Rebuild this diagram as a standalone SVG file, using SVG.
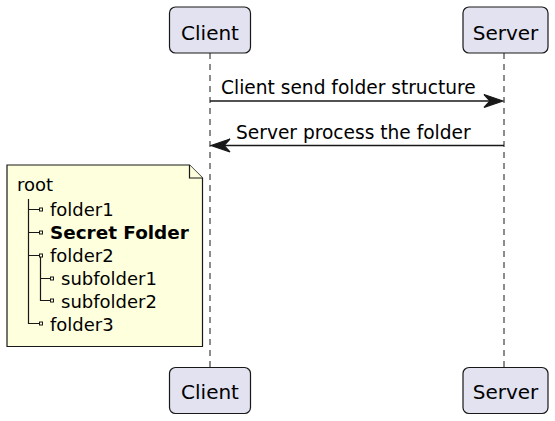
<svg xmlns="http://www.w3.org/2000/svg" width="555" height="421" viewBox="0 0 555 421">
<style>
text{font-family:"DejaVu Sans",Verdana,sans-serif;font-size:18.6px;fill:#000}
.pt{font-size:20px}
.nt{font-size:18px}
.nb{font-size:18.4px;font-weight:bold}
.p{fill:#E2E2F0;stroke:#181818;stroke-width:1.2}
.life{stroke:#181818;stroke-width:1;stroke-dasharray:6,5;fill:none}
.msg{stroke:#181818;stroke-width:1.4;fill:none}
.head{fill:#181818;stroke:#181818;stroke-width:1.2}
.note{fill:#FEFFDD;stroke:#181818;stroke-width:1.2}
.tree{stroke:#181818;stroke-width:1.2;fill:none}
.sq{fill:#FEFFDD;stroke:#181818;stroke-width:1}
</style>
<g id="lifelines">
<line class="life" x1="210" y1="53" x2="210" y2="367"/>
<line class="life" x1="504" y1="53" x2="504" y2="367"/>
</g>
<g id="client-top"><rect class="p" x="169.5" y="7" width="81" height="46" rx="6"/><text class="pt" x="210" y="39.5" text-anchor="middle">Client</text></g>
<g id="server-top"><rect class="p" x="463" y="7" width="85" height="46" rx="6"/><text class="pt" x="505.5" y="39.5" text-anchor="middle">Server</text></g>
<g id="client-bottom"><rect class="p" x="169.5" y="367.5" width="81" height="46" rx="6"/><text class="pt" x="210" y="399" text-anchor="middle">Client</text></g>
<g id="server-bottom"><rect class="p" x="463" y="367.5" width="85" height="46" rx="6"/><text class="pt" x="505.5" y="399" text-anchor="middle">Server</text></g>
<g id="connectors">
<line class="msg" x1="210" y1="101" x2="498" y2="101"/>
<polygon class="head" points="503,101 484,94.5 490,101 484,107.5"/>
<text x="221" y="94">Client send folder structure</text>
<line class="msg" x1="216" y1="145.5" x2="504" y2="145.5"/>
<polygon class="head" points="211,145.5 230,139 224,145.5 230,152"/>
<text x="236" y="138.5">Server process the folder</text>
</g>
<g id="note">
<path class="note" d="M7,165 H189.5 L202.5,178 V346.5 H7 Z"/>
<path class="note" d="M189.5,165 V178 H202.5"/>
<text class="nt" x="17" y="191">root</text>
<path class="tree" d="M28.5,199 V323.5 H39.5 M28.5,209.5 H39.5 M28.5,232.5 H39.5 M28.5,255.5 H39.5 M40.5,255.5 V300.5 H50.5 M40.5,278.5 H50.5"/>
<rect class="sq" x="39.5" y="208" width="3" height="3"/>
<rect class="sq" x="39.5" y="231" width="3" height="3"/>
<rect class="sq" x="39.5" y="254" width="3" height="3"/>
<rect class="sq" x="50.5" y="277" width="3" height="3"/>
<rect class="sq" x="50.5" y="299" width="3" height="3"/>
<rect class="sq" x="39.5" y="322" width="3" height="3"/>
<text class="nt" x="50" y="215.5">folder1</text>
<text class="nb" x="50" y="238.5">Secret Folder</text>
<text class="nt" x="50" y="261.5">folder2</text>
<text class="nt" x="61" y="284.5">subfolder1</text>
<text class="nt" x="61" y="307.5">subfolder2</text>
<text class="nt" x="50" y="330.5">folder3</text>
</g>
</svg>
